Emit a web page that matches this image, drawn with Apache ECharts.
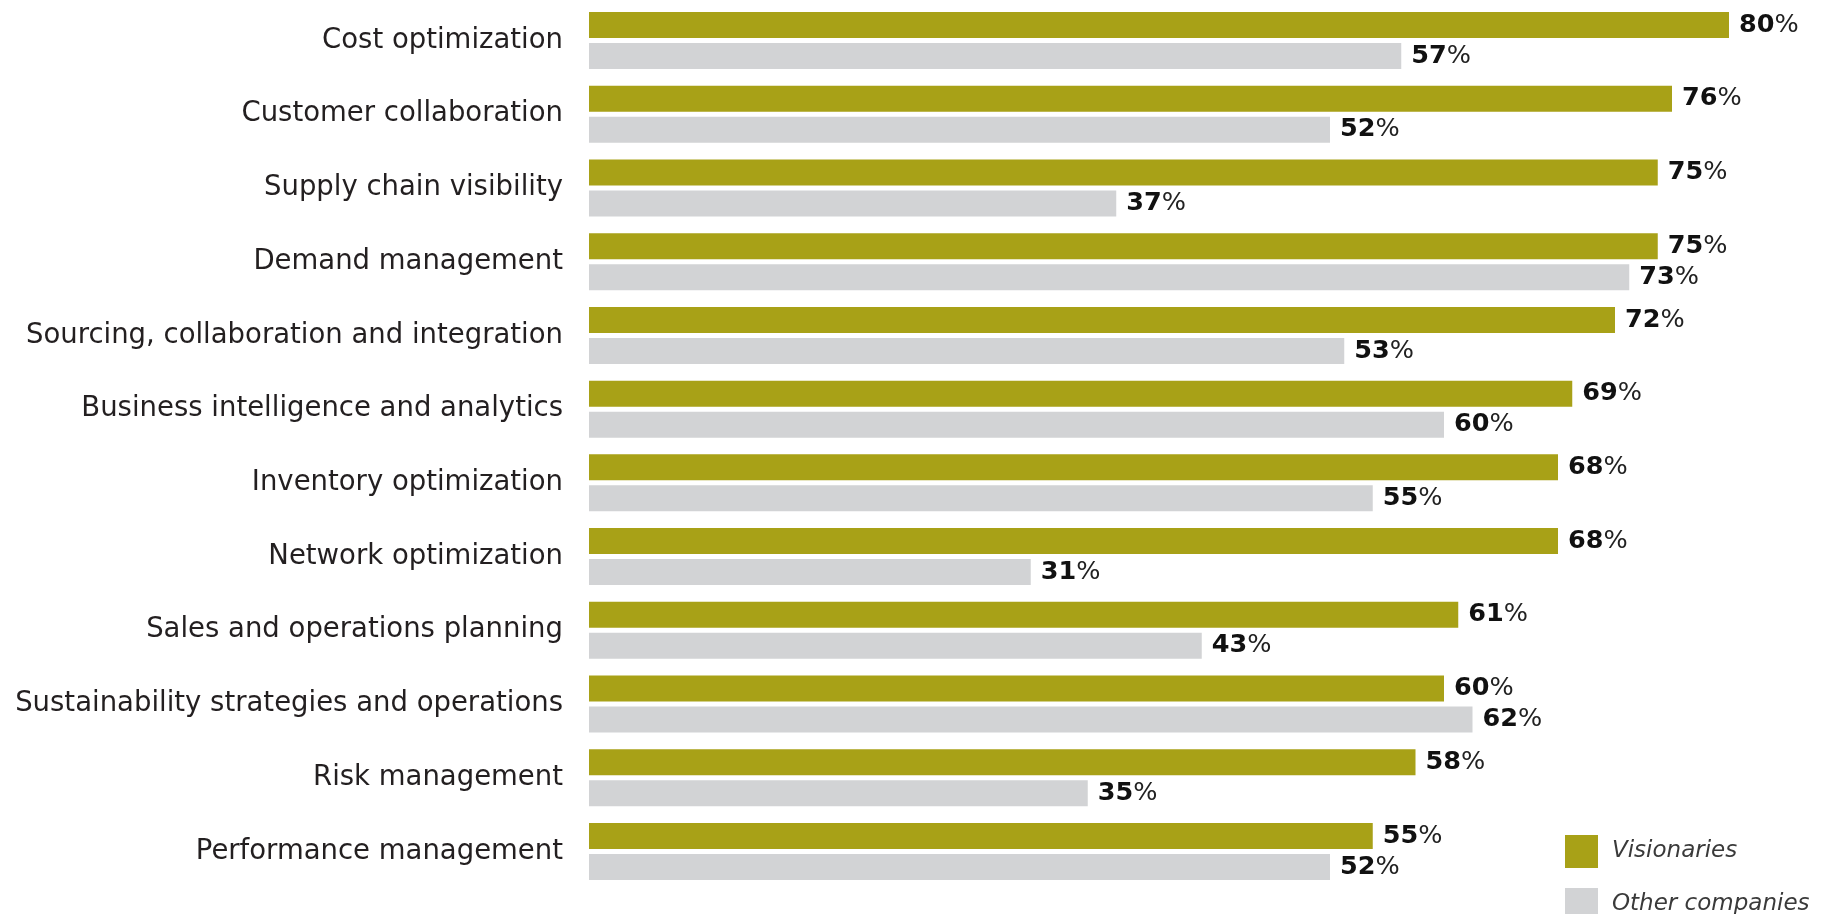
<!DOCTYPE html>
<html>
<head>
<meta charset="utf-8">
<title>Supply chain capabilities: Visionaries vs other companies</title>
<script src="https://cdn.jsdelivr.net/npm/echarts@6/dist/echarts.min.js"></script>
<style>
  html, body { margin: 0; padding: 0; background: #ffffff; }
  #chart { width: 1823px; height: 914px; }
</style>
</head>
<body>
<div id="chart"></div>
<script>
// Capability areas, listed top to bottom
const categories = [
  'Cost optimization',
  'Customer collaboration',
  'Supply chain visibility',
  'Demand management',
  'Sourcing, collaboration and integration',
  'Business intelligence and analytics',
  'Inventory optimization',
  'Network optimization',
  'Sales and operations planning',
  'Sustainability strategies and operations',
  'Risk management',
  'Performance management'
];

// Share of respondents (%)
const visionaries = [80, 76, 75, 75, 72, 69, 68, 68, 61, 60, 58, 55];
const otherCompanies = [57, 52, 37, 73, 53, 60, 55, 31, 43, 62, 35, 52];

const seriesNames = ['Visionaries', 'Other companies'];

const FONT = '"DejaVu Sans", "Liberation Sans", Arial, sans-serif';
const GREEN = '#a8a117';
const GREY = '#d2d3d5';

const valueLabel = {
  show: true,
  position: 'right',
  distance: 10,
  formatter: p => '{n|' + p.value + '}{p|%}',
  rich: {
    n: { fontFamily: FONT, fontSize: 25.5, fontWeight: 'bold', color: '#111111' },
    p: { fontFamily: FONT, fontSize: 25.5, fontWeight: 'normal', color: '#222222' }
  }
};

const chart = echarts.init(document.getElementById('chart'), null, { renderer: 'canvas' });

chart.setOption({
  backgroundColor: '#ffffff',
  animation: false,
  grid: {
    left: 589,
    top: 3.6,
    width: 1140,
    height: 884.8,
    containLabel: false
  },
  xAxis: {
    type: 'value',
    min: 0,
    max: 80,
    show: false
  },
  yAxis: {
    type: 'category',
    data: categories,
    inverse: true,
    axisLine: { show: false },
    axisTick: { show: false },
    splitLine: { show: false },
    axisLabel: {
      margin: 26,
      fontFamily: FONT,
      fontSize: 27.5,
      color: '#231f20'
    }
  },
  legend: {
    orient: 'vertical',
    left: 1560,
    top: 830,
    height: 140,
    itemWidth: 33,
    itemHeight: 33,
    itemGap: 20,
    icon: 'rect',
    data: seriesNames,
    textStyle: {
      fontFamily: FONT,
      fontSize: 23,
      fontStyle: 'italic',
      color: '#3a3a3a',
      padding: [0, 0, 0, 9]
    }
  },
  series: [
    {
      name: seriesNames[0],
      type: 'bar',
      data: visionaries,
      barWidth: 26,
      barGap: '19.2%',
      itemStyle: { color: GREEN },
      label: valueLabel
    },
    {
      name: seriesNames[1],
      type: 'bar',
      data: otherCompanies,
      barWidth: 26,
      barGap: '19.2%',
      itemStyle: { color: GREY },
      label: valueLabel
    }
  ]
});
</script>
</body>
</html>
